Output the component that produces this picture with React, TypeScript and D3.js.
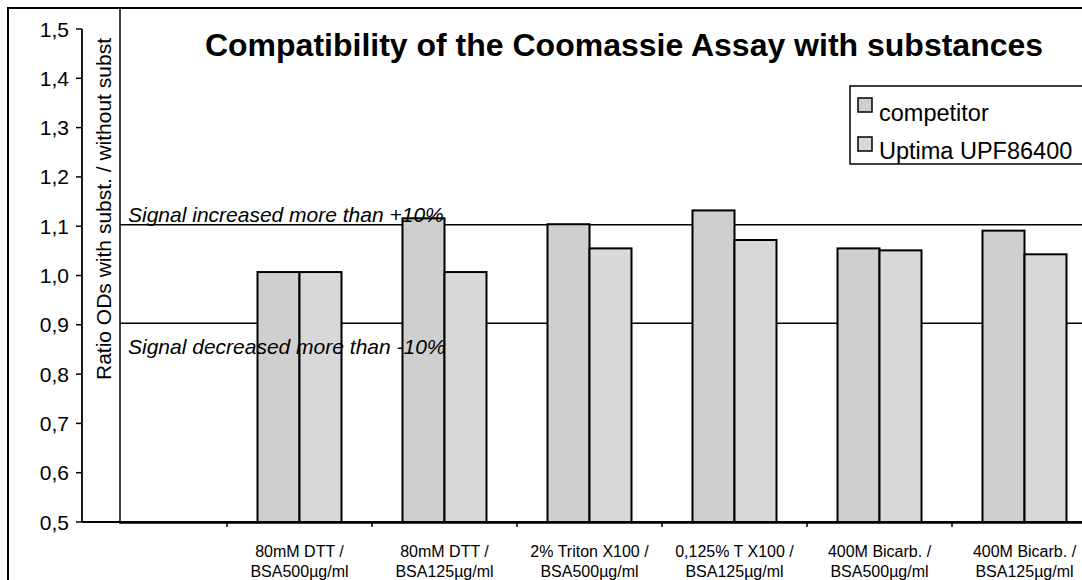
import React from "react";
import * as d3 from "d3";

const categories: string[][] = [
  [],
  ["80mM DTT /", "BSA500µg/ml"],
  ["80mM DTT /", "BSA125µg/ml"],
  ["2% Triton X100 /", "BSA500µg/ml"],
  ["0,125% T X100 /", "BSA125µg/ml"],
  ["400M Bicarb. /", "BSA500µg/ml"],
  ["400M Bicarb. /", "BSA125µg/ml"],
];
const seriesNames = ["competitor", "Uptima UPF86400"];
const competitor = [NaN, 1.007, 1.116, 1.104, 1.132, 1.055, 1.091];
const uptima = [NaN, 1.007, 1.007, 1.055, 1.072, 1.051, 1.043];
const yTicks = [0.5, 0.6, 0.7, 0.8, 0.9, 1.0, 1.1, 1.2, 1.3, 1.4, 1.5];
const thresholds = [
  { value: 1.1, label: "Signal increased more than +10%" },
  { value: 0.9, label: "Signal decreased more than -10%" },
];
const colors = ["#cfcfcf", "#d8d8d8"];
const title = "Compatibility of the Coomassie Assay with substances";
const yTitle = "Ratio ODs with subst. / without subst";

const FONT = "'Liberation Sans', Arial, sans-serif";

export default function App() {
  const W = 1082;
  const H = 580;
  const y = d3.scaleLinear().domain([0.5, 1.5]).range([522, 29]);
  const x = d3
    .scaleBand<number>()
    .domain(categories.map((_, i) => i))
    .range([82, 82 + 145 * categories.length])
    .paddingInner(0)
    .paddingOuter(0);
  const inner = d3
    .scaleBand<number>()
    .domain([0, 1])
    .range([30.5, 114.5])
    .padding(0);
  const fmt = (v: number) => d3.format(".1f")(v).replace(".", ",");
  const series = [competitor, uptima];
  const plotLeft = 120;
  const plotTop = 8;
  const plotBottom = 523;

  return (
    <svg
      width={W}
      height={H}
      style={{ position: "absolute", left: 0, top: 0, background: "#fff" }}
      fontFamily={FONT}
    >
      <rect x={0} y={0} width={W} height={H} fill="#fff" />
      {/* outer chart border */}
      <rect x={8} y={8} width={W + 20} height={H + 20} fill="none" stroke="#000" strokeWidth={2} />
      {/* plot area frame */}
      <rect
        x={plotLeft}
        y={plotTop}
        width={W}
        height={plotBottom - plotTop}
        fill="none"
        stroke="#000"
        strokeWidth={1.5}
      />
      {/* threshold lines */}
      {thresholds.map((t) => (
        <line
          key={t.value}
          x1={plotLeft}
          x2={W}
          y1={y(t.value) - 1.5}
          y2={y(t.value) - 1.5}
          stroke="#000"
          strokeWidth={1.5}
        />
      ))}
      {/* bars */}
      {categories.map((_, i) =>
        series.map((s, k) => {
          const v = s[i];
          if (!isFinite(v)) return null;
          const bx = (x(i) as number) + (inner(k) as number);
          return (
            <rect
              key={`${i}-${k}`}
              x={bx}
              y={y(v)}
              width={inner.bandwidth()}
              height={y(0.5) - y(v)}
              fill={colors[k]}
              stroke="#000"
              strokeWidth={2}
            />
          );
        })
      )}
      {/* threshold labels */}
      {thresholds.map((t, i) => (
        <text
          key={t.label}
          x={128}
          y={i === 0 ? y(t.value) - 4 : y(t.value) + 29}
          fontSize={21}
          fontStyle="italic"
          fill="#000"
        >
          {t.label}
        </text>
      ))}
      {/* y axis */}
      <line x1={82} x2={82} y1={y(1.5)} y2={y(0.5)} stroke="#000" strokeWidth={1.8} />
      {yTicks.map((t) => (
        <g key={t}>
          <line x1={76} x2={82} y1={y(t)} y2={y(t)} stroke="#000" strokeWidth={1.5} />
          <text x={69} y={y(t)} dy="0.36em" textAnchor="end" fontSize={21} fill="#000">
            {fmt(t)}
          </text>
        </g>
      ))}
      {/* x axis */}
      <line x1={82} x2={W} y1={y(0.5)} y2={y(0.5)} stroke="#000" strokeWidth={1.8} />
      {categories.map((_, i) =>
        i === 0 ? null : (
          <line
            key={i}
            x1={x(i) as number}
            x2={x(i) as number}
            y1={y(0.5)}
            y2={y(0.5) + 5}
            stroke="#000"
            strokeWidth={1.5}
          />
        )
      )}
      {categories.map((lines, i) => (
        <text
          key={i}
          x={(x(i) as number) + x.bandwidth() / 2}
          y={557}
          textAnchor="middle"
          fontSize={16}
          fill="#000"
        >
          {lines.map((l, j) => (
            <tspan key={j} x={(x(i) as number) + x.bandwidth() / 2} dy={j === 0 ? 0 : 19.5}>
              {l}
            </tspan>
          ))}
        </text>
      ))}
      {/* y title */}
      <text
        transform={`translate(111, 209) rotate(-90)`}
        textAnchor="middle"
        fontSize={21}
        fill="#000"
      >
        {yTitle}
      </text>
      {/* title */}
      <text x={624} y={56} textAnchor="middle" fontSize={32} fontWeight="bold" fill="#000">
        {title}
      </text>
      {/* legend */}
      <rect x={850} y={86} width={260} height={78} fill="#fff" stroke="#000" strokeWidth={1.5} />
      {seriesNames.map((n, k) => (
        <g key={n}>
          <rect
            x={858}
            y={98 + k * 39}
            width={14}
            height={14}
            fill={colors[k]}
            stroke="#000"
            strokeWidth={1.5}
          />
          <text x={879} y={121 + k * 38} fontSize={23.5} fill="#000">
            {n}
          </text>
        </g>
      ))}
    </svg>
  );
}
